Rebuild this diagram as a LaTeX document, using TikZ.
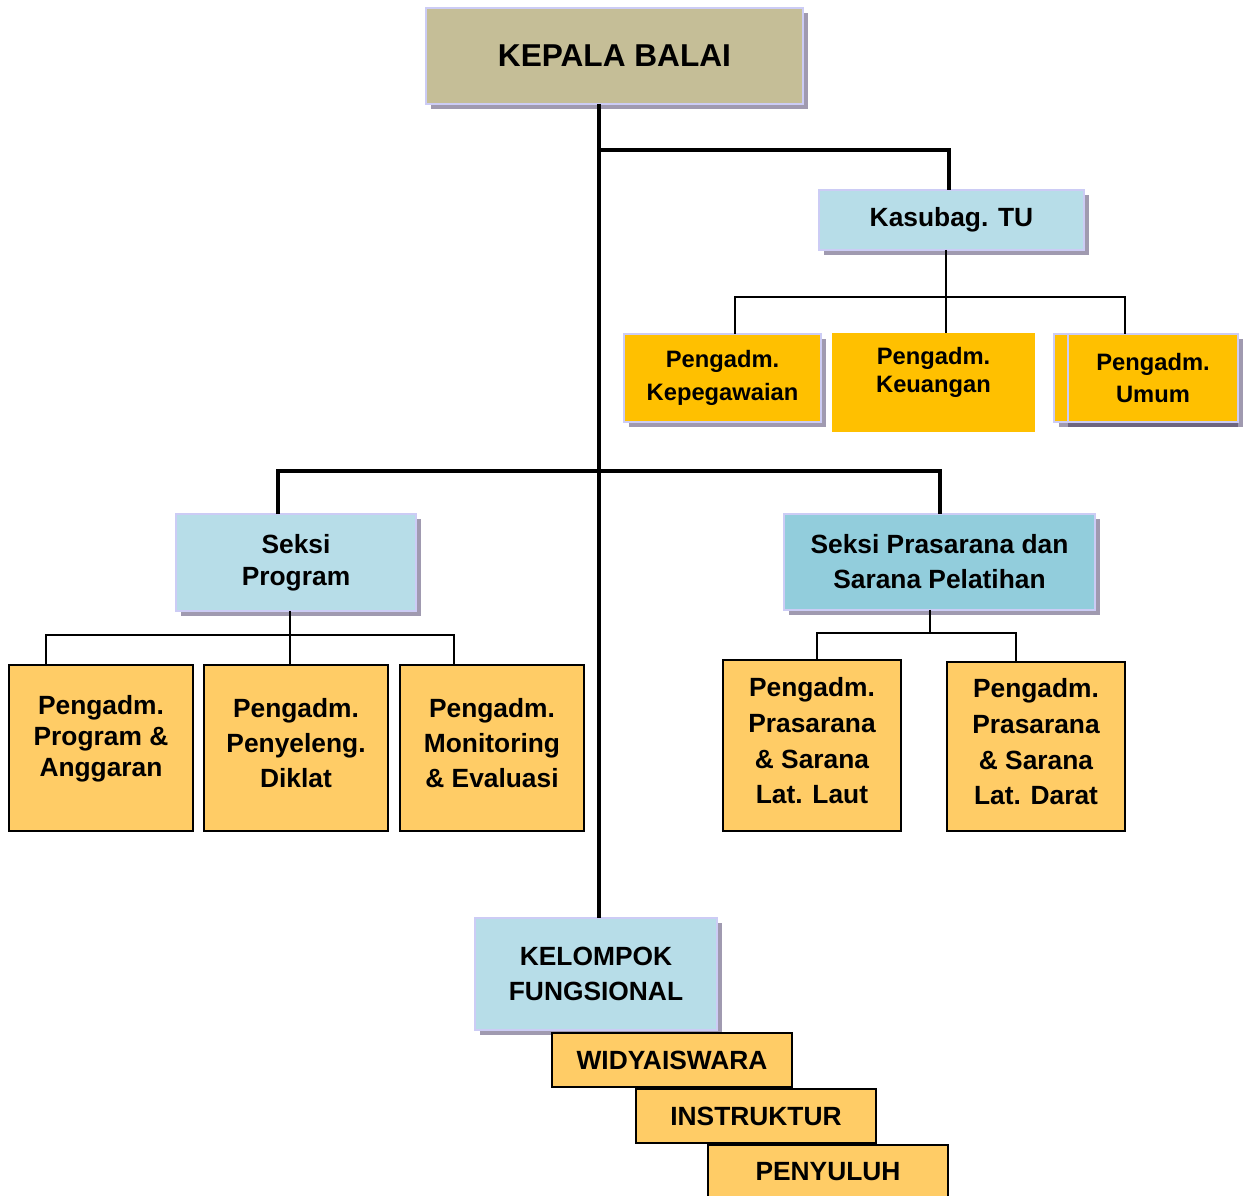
\documentclass[tikz,border=0pt]{standalone}
\usepackage{fontspec}
\setmainfont{Liberation Sans}
\usetikzlibrary{shadows}
\definecolor{tan}{HTML}{C5BE97}
\definecolor{lblue}{HTML}{B7DDE8}
\definecolor{mblue}{HTML}{92CDDC}
\definecolor{gold}{HTML}{FFC000}
\definecolor{lorange}{HTML}{FFCC66}
\definecolor{lav}{HTML}{CCCCF5}
\definecolor{shgray}{HTML}{A09AB0}
\definecolor{shdark}{HTML}{6E6680}
\tikzset{
  every node/.style={inner sep=0pt, outer sep=0pt, align=center},
  shbox/.style={draw=lav, line width=1.2pt, general shadow={fill=shgray, shadow xshift=0.1cm, shadow yshift=-0.1cm}},
  plainbox/.style={draw=black, line width=0.9pt, fill=lorange},
  thickline/.style={line width=2pt},
  thinline/.style={line width=1.1pt},
}
\newcommand{\fz}[2]{\fontsize{#1pt}{#2pt}\selectfont\bfseries}
\begin{document}
\begin{tikzpicture}[x=0.02cm, y=-0.02cm]
\useasboundingbox (0,0) rectangle (1249,1196);
% top
\node[shbox, fill=tan, minimum width=7.54cm, minimum height=1.92cm, font=\fz{18}{22}] (kepala) at (614.5,56) {KEPALA BALAI};
\node[shbox, fill=lblue, minimum width=5.3cm, minimum height=1.2cm, font=\fz{15}{18}] (kasubag) at (951.5,220) {Kasubag. TU};
% TU staff
\node[shbox, fill=gold, minimum width=3.94cm, minimum height=1.76cm, font=\fz{13.5}{18.7}] (kepeg) at (722.5,378) {Pengadm.\\Kepegawaian};
\node[fill=gold, minimum width=4.06cm, minimum height=1.98cm] (keu) at (933.5,382.5) {};
\node[font=\fz{13.5}{16}] (keutext) at (933.5,372) {Pengadm.\\Keuangan};
\node[shbox, fill=gold, minimum width=3.68cm, minimum height=1.76cm] (umumA) at (1146,378) {};
\node[draw=lav, line width=1.2pt, fill=gold, general shadow={fill=shdark, shadow xshift=0cm, shadow yshift=-0.1cm}, minimum width=3.4cm, minimum height=1.76cm, font=\fz{13.5}{18}] (umum) at (1153,378) {Pengadm.\\Umum};
% seksi
\node[shbox, fill=lblue, minimum width=4.8cm, minimum height=1.94cm, font=\fz{15}{18}] (sprog) at (296,562.5) {Seksi\\Program};
\node[shbox, fill=mblue, minimum width=6.22cm, minimum height=1.92cm, font=\fz{15}{20}] (spras) at (939.5,562) {Seksi Prasarana dan\\Sarana Pelatihan};
% lower boxes
\node[plainbox, minimum width=3.68cm, minimum height=3.32cm, font=\fz{15}{17.6}, text depth=14pt] (pa) at (101,748) {Pengadm.\\Program \&\\Anggaran};
\node[plainbox, minimum width=3.68cm, minimum height=3.32cm, font=\fz{15}{20}, text depth=5.6pt] (pd) at (296,748) {Pengadm.\\Penyeleng.\\Diklat};
\node[plainbox, minimum width=3.68cm, minimum height=3.32cm, font=\fz{15}{20}, text depth=5.6pt] (mo) at (492,748) {Pengadm.\\Monitoring\\\& Evaluasi};
\node[plainbox, minimum width=3.56cm, minimum height=3.42cm, font=\fz{15}{20.4}, text depth=5.6pt] (ll) at (812,745.5) {Pengadm.\\Prasarana\\\& Sarana\\Lat. Laut};
\node[plainbox, minimum width=3.56cm, minimum height=3.38cm, font=\fz{15}{20.4}, text depth=5.6pt] (ld) at (1036,746.5) {Pengadm.\\Prasarana\\\& Sarana\\Lat. Darat};
% fungsional
\node[shbox, fill=lblue, minimum width=4.84cm, minimum height=2.24cm, font=\fz{15}{20.4}] (kf) at (596,974) {KELOMPOK\\FUNGSIONAL};
\node[plainbox, minimum width=4.8cm, minimum height=1.08cm, font=\fz{15}{18}] (wi) at (672,1060) {WIDYAISWARA};
\node[plainbox, minimum width=4.8cm, minimum height=1.08cm, font=\fz{15}{18}] (in) at (756,1116) {INSTRUKTUR};
\node[plainbox, minimum width=4.8cm, minimum height=1.08cm, font=\fz{15}{18}] (pe) at (828,1172) {PENYULUH};
% connectors
\coordinate (trunk) at (599,0);
\coordinate (j1) at (599,150);
\coordinate (j2) at (599,471);
\draw[thickline] (kepala.south -| trunk) -- (kf.north -| trunk);
\draw[thickline] (j1) -| (kasubag.north -| 949,0);
\draw[thickline] (sprog.north -| 278,0) |- (j2) -| (spras.north -| 940,0);
% TU bus
\coordinate (b1) at (946,297);
\draw[thinline] (kasubag.south -| b1) -- (b1);
\draw[thinline] (kepeg.north -| 735,0) |- (b1) -| (umumA.north -| 1125,0);
\draw[thinline] (b1) -- (keu.north -| b1);
% seksi program bus
\coordinate (b2) at (290,635);
\draw[thinline] (sprog.south -| b2) -- (b2);
\draw[thinline] (pa.north -| 46,0) |- (b2) -| (mo.north -| 454,0);
\draw[thinline] (b2) -- (pd.north -| b2);
% prasarana bus
\coordinate (b3) at (930,633);
\draw[thinline] (spras.south -| b3) -- (b3);
\draw[thinline] (ll.north -| 817,0) |- (b3) -| (ld.north -| 1016,0);
\end{tikzpicture}
\end{document}
